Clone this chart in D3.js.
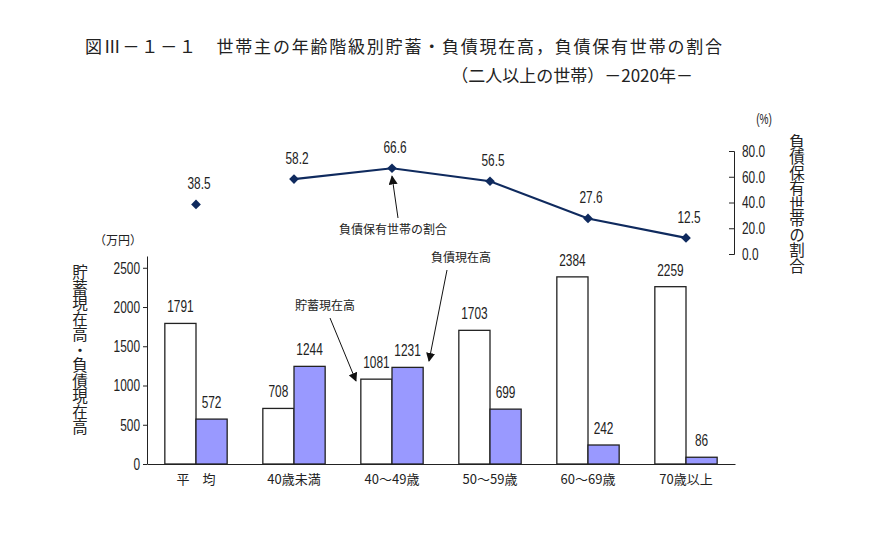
<!DOCTYPE html>
<html>
<head>
<meta charset="utf-8">
<script src="https://cdn.jsdelivr.net/npm/d3@7"></script>
<style>
  body { margin: 0; background: #fff; }
  text { fill: #222; }
  .num { font-family: "Liberation Sans", Arial, sans-serif; font-size: 16.5px; }
  .jp { font-family: "Noto Sans CJK JP", sans-serif; }
</style>
</head>
<body>
<div id="chart"></div>
<script>
var svgWidth = 870;
var svgHeight = 556;

// data
var categories = ["平　均", "40歳未満", "40～49歳", "50～59歳", "60～69歳", "70歳以上"];
var savings = [1791, 708, 1081, 1703, 2384, 2259];     // 貯蓄現在高 (万円)
var debts = [572, 1244, 1231, 699, 242, 86];           // 負債現在高 (万円)
var debtShare = [38.5, 58.2, 66.6, 56.5, 27.6, 12.5];  // 負債保有世帯の割合 (%)
var leftTicks = [0, 500, 1000, 1500, 2000, 2500];
var rightTicks = [0, 20, 40, 60, 80];

var svg = d3.select("#chart")
  .append("svg")
  .attr("width", svgWidth)
  .attr("height", svgHeight);

// arrow head
svg.append("defs").append("marker")
  .attr("id", "arrow")
  .attr("viewBox", "0 0 10 10")
  .attr("refX", 9)
  .attr("refY", 5)
  .attr("markerWidth", 9)
  .attr("markerHeight", 9)
  .attr("markerUnits", "userSpaceOnUse")
  .attr("orient", "auto")
  .append("path")
  .attr("d", "M0,0 L10,5 L0,10 Z")
  .attr("fill", "#111");

// scales
var xScale = d3.scaleBand()
  .domain(categories)
  .range([147, 735])
  .padding(0);

var yScale = d3.scaleLinear()
  .domain([0, 2650])
  .range([464, 256]);

var yRight = d3.scaleLinear()
  .domain([0, 80])
  .range([254, 151]);

var barW = xScale.bandwidth() * 0.318;
var cx = d => xScale(d) + xScale.bandwidth() / 2;

// title
svg.append("text")
  .attr("class", "jp")
  .attr("x", 85)
  .attr("y", 53)
  .attr("font-size", 17)
  .attr("textLength", 637)
  .text("図Ⅲ－１－１　世帯主の年齢階級別貯蓄・負債現在高，負債保有世帯の割合");

svg.append("text")
  .attr("class", "jp")
  .attr("x", 693)
  .attr("y", 82)
  .attr("text-anchor", "end")
  .attr("font-size", 17)
  .text("（二人以上の世帯）－2020年－");

// bars
var groups = svg.selectAll(".cat")
  .data(categories)
  .enter()
  .append("g")
  .attr("class", "cat");

groups.append("rect")
  .attr("x", d => cx(d) - barW)
  .attr("y", (d, i) => yScale(savings[i]))
  .attr("width", barW)
  .attr("height", (d, i) => yScale(0) - yScale(savings[i]))
  .attr("fill", "#fff")
  .attr("stroke", "#222")
  .attr("stroke-width", 1.3);

groups.append("rect")
  .attr("x", d => cx(d))
  .attr("y", (d, i) => yScale(debts[i]))
  .attr("width", barW)
  .attr("height", (d, i) => yScale(0) - yScale(debts[i]))
  .attr("fill", "#9999ff")
  .attr("stroke", "#222")
  .attr("stroke-width", 1.3);

groups.append("text")
  .attr("class", "num")
  .attr("x", d => cx(d) - barW / 2)
  .attr("y", (d, i) => yScale(savings[i]) - 11)
  .attr("text-anchor", "middle")
  .text((d, i) => savings[i]);

groups.append("text")
  .attr("class", "num")
  .attr("x", d => cx(d) + barW / 2)
  .attr("y", (d, i) => yScale(debts[i]) - 11)
  .attr("text-anchor", "middle")
  .text((d, i) => debts[i]);

// left axis
var leftAxis = d3.axisLeft(yScale)
  .tickValues(leftTicks)
  .tickFormat(d3.format("d"))
  .tickSizeInner(4)
  .tickSizeOuter(0)
  .tickPadding(3);

var yAxis = svg.append("g")
  .attr("transform", "translate(147,0)")
  .call(leftAxis);
yAxis.attr("font-family", null).attr("font-size", null);
yAxis.selectAll("text").attr("class", "num");
yAxis.selectAll("line, path").attr("stroke", "#222");

// bottom axis
var bottomAxis = d3.axisBottom(xScale)
  .tickSize(0)
  .tickPadding(11);

var xAxis = svg.append("g")
  .attr("transform", "translate(0,464)")
  .call(bottomAxis);
xAxis.attr("font-family", null).attr("font-size", null);
xAxis.selectAll("text").attr("class", "jp").style("font-size", "13px");
xAxis.selectAll("path").attr("stroke", "#222");

// right axis
var rightAxis = d3.axisRight(yRight)
  .tickValues(rightTicks)
  .tickSizeInner(-5)
  .tickSizeOuter(-5)
  .tickPadding(8)
  .tickFormat(d3.format(".1f"));

var rAxis = svg.append("g")
  .attr("transform", "translate(734,0)")
  .call(rightAxis);
rAxis.attr("font-family", null).attr("font-size", null);
rAxis.selectAll("text").attr("class", "num");
rAxis.selectAll("line, path").attr("stroke", "#222");

// unit labels
svg.append("text")
  .attr("class", "jp")
  .attr("x", 118)
  .attr("y", 245)
  .attr("text-anchor", "middle")
  .attr("font-size", 12)
  .text("（万円）");

svg.append("text")
  .attr("class", "num")
  .attr("x", 764)
  .attr("y", 124)
  .attr("text-anchor", "middle")
  .style("font-size", "14px")
  .text("(%)");

// vertical axis titles
svg.append("text")
  .attr("class", "jp")
  .attr("x", 80)
  .attr("y", 350)
  .attr("text-anchor", "middle")
  .attr("font-size", 15.5)
  .style("writing-mode", "vertical-rl")
  .style("text-orientation", "upright")
  .text("貯蓄現在高・負債現在高");

svg.append("text")
  .attr("class", "jp")
  .attr("x", 797)
  .attr("y", 204)
  .attr("text-anchor", "middle")
  .attr("font-size", 15.5)
  .style("writing-mode", "vertical-rl")
  .style("text-orientation", "upright")
  .text("負債保有世帯の割合");

// line: the average point stands alone, age groups are joined
var lineData = categories.slice(1).map((c, i) => [cx(c), yRight(debtShare[i + 1])]);
svg.append("path")
  .attr("d", d3.line()(lineData))
  .attr("fill", "none")
  .attr("stroke", "#0f2a5e")
  .attr("stroke-width", 2.2);

svg.selectAll(".pt")
  .data(categories)
  .enter()
  .append("path")
  .attr("class", "pt")
  .attr("d", d3.symbol().type(d3.symbolDiamond2).size(60))
  .attr("transform", (d, i) => `translate(${cx(d)},${yRight(debtShare[i])})`)
  .attr("fill", "#0f2a5e");

svg.selectAll(".ptlabel")
  .data(categories)
  .enter()
  .append("text")
  .attr("class", "num ptlabel")
  .attr("x", d => cx(d) + 3)
  .attr("y", (d, i) => yRight(debtShare[i]) - 15)
  .attr("text-anchor", "middle")
  .text((d, i) => debtShare[i].toFixed(1));

// annotations
svg.append("text")
  .attr("class", "jp")
  .attr("x", 393)
  .attr("y", 234)
  .attr("text-anchor", "middle")
  .attr("font-size", 12)
  .text("負債保有世帯の割合");

svg.append("line")
  .attr("x1", 398).attr("y1", 218)
  .attr("x2", cx(categories[2])).attr("y2", yRight(debtShare[2]) + 8)
  .attr("stroke", "#111")
  .attr("marker-end", "url(#arrow)");

svg.append("text")
  .attr("class", "jp")
  .attr("x", 461)
  .attr("y", 262)
  .attr("text-anchor", "middle")
  .attr("font-size", 12)
  .text("負債現在高");

svg.append("line")
  .attr("x1", 447).attr("y1", 270)
  .attr("x2", 429).attr("y2", 361)
  .attr("stroke", "#111")
  .attr("marker-end", "url(#arrow)");

svg.append("text")
  .attr("class", "jp")
  .attr("x", 325)
  .attr("y", 310)
  .attr("text-anchor", "middle")
  .attr("font-size", 12)
  .text("貯蓄現在高");

svg.append("line")
  .attr("x1", 330).attr("y1", 318)
  .attr("x2", 356).attr("y2", 381)
  .attr("stroke", "#111")
  .attr("marker-end", "url(#arrow)");

// the source uses a narrow face for figures; squeeze them horizontally
svg.selectAll("text.num").each(function() {
  var w = this.getComputedTextLength();
  d3.select(this)
    .attr("textLength", w * 0.72)
    .attr("lengthAdjust", "spacingAndGlyphs");
});
</script>
</body>
</html>
